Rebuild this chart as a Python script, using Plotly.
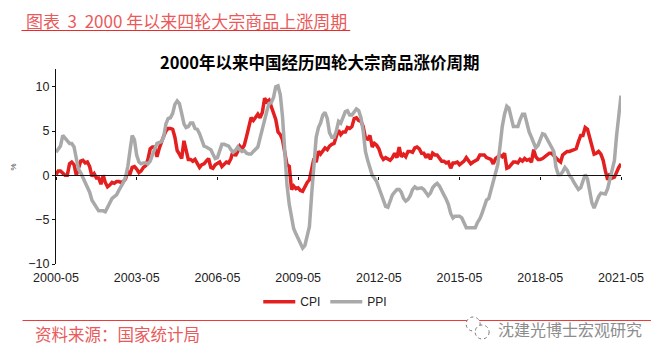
import pandas as pd
import plotly.graph_objects as go

dates = pd.date_range("2000-05-01", "2021-05-01", freq="MS")
tick_dates = ["2000-05-01","2003-05-01","2006-05-01","2009-05-01","2012-05-01","2015-05-01","2018-05-01","2021-05-01"]
tick_labels = ["2000-05","2003-05","2006-05","2009-05","2012-05","2015-05","2018-05","2021-05"]

cpi = [0.1,0.5,0.5,0.3,0.0,0.0,1.3,1.5,
 1.2,0.0,0.8,1.6,1.7,1.4,1.5,1.0,-0.1,0.2,-0.3,-0.3,
 -1.0,0.0,-0.8,-1.3,-1.1,-0.8,-0.9,-0.7,-0.7,-0.8,-0.7,-0.4,
 0.4,0.2,0.9,1.0,0.7,0.3,0.5,0.9,1.1,1.8,3.0,3.2,
 3.2,2.1,3.0,3.8,4.4,5.0,5.3,5.3,5.2,4.3,2.8,2.4,
 1.9,3.9,2.7,1.8,1.8,1.6,1.8,1.3,0.9,1.2,1.3,1.6,
 1.9,0.9,0.8,1.2,1.4,1.5,1.0,1.3,1.5,1.4,1.9,2.8,
 2.2,2.7,3.3,3.0,3.4,4.4,5.6,6.5,6.2,6.5,6.9,6.5,
 7.1,8.7,8.3,8.5,7.7,7.1,6.3,4.9,4.6,4.0,2.4,1.2,
 1.0,-1.6,-1.2,-1.5,-1.4,-1.7,-1.8,-1.2,-0.8,-0.5,0.6,1.9,
 1.5,2.7,2.4,2.8,3.1,2.9,3.3,3.5,3.6,4.4,5.1,4.6,
 4.9,4.9,5.4,5.3,5.5,6.4,6.5,6.2,6.1,5.5,4.2,4.1,
 4.5,3.2,3.6,3.4,3.0,2.2,1.8,2.0,1.9,1.7,2.0,2.5,
 2.0,3.2,2.1,2.4,2.1,2.7,2.7,2.6,3.1,3.2,3.0,2.5,
 2.5,2.0,2.4,1.8,2.5,2.3,2.3,2.0,1.6,1.6,1.4,1.5,
 0.8,1.4,1.4,1.5,1.2,1.4,1.6,2.0,1.6,1.3,1.5,1.6,
 1.8,2.3,2.3,2.3,2.0,1.9,1.8,1.3,1.9,2.1,2.3,2.1,
 2.5,0.8,0.9,1.2,1.5,1.5,1.4,1.8,1.6,1.9,1.7,1.8,
 1.5,2.9,2.1,1.8,1.8,1.9,2.1,2.3,2.5,2.5,2.2,1.9,
 1.7,1.5,2.3,2.5,2.7,2.7,2.8,2.8,3.0,3.8,4.5,4.5,
 5.4,5.2,4.3,3.3,2.4,2.5,2.7,2.4,1.7,0.5,-0.5,0.2,
 -0.3,-0.2,0.4,0.9,1.3]

ppi = [2.6,2.9,3.3,4.5,4.2,3.8,3.6,3.6,
 3.2,1.9,0.7,0.3,-0.2,-0.8,-1.3,-1.9,-2.8,-3.2,-3.7,-4.0,
 -4.0,-4.0,-4.1,-3.6,-2.9,-2.6,-2.4,-2.2,-1.7,-1.3,-0.8,-0.2,
 1.0,2.9,4.5,4.0,2.3,1.5,1.3,1.4,1.4,1.3,1.6,2.3,
 3.0,3.6,3.7,3.8,4.3,5.8,6.4,6.5,7.0,8.0,8.4,8.1,
 7.0,5.8,5.4,5.5,5.9,5.9,5.3,5.2,4.7,4.0,3.3,3.2,
 3.0,2.9,2.4,1.9,2.0,2.7,3.5,3.5,3.4,3.3,2.9,2.6,
 2.8,3.2,2.9,2.7,2.8,2.5,2.4,2.4,2.7,2.9,3.2,4.2,
 5.3,6.2,7.2,8.1,8.2,8.8,10.0,10.1,9.1,6.6,2.0,-1.1,
 -3.3,-4.5,-6.0,-6.6,-7.2,-7.8,-8.2,-7.9,-7.0,-5.8,-2.1,1.7,
 4.3,5.4,5.9,6.8,7.1,6.4,4.8,4.3,4.3,5.0,6.1,5.9,
 6.6,7.2,7.3,6.8,6.8,7.1,7.5,7.3,6.5,5.0,2.7,1.7,
 0.7,0.0,-0.3,-0.7,-1.4,-2.1,-2.9,-3.5,-3.6,-2.8,-2.2,-1.9,
 -1.6,-1.6,-1.9,-2.6,-2.9,-2.7,-2.3,-1.6,-1.3,-1.5,-1.4,-1.4,
 -1.6,-2.0,-2.3,-2.0,-1.4,-1.1,-0.9,-1.2,-1.8,-2.2,-2.7,-3.3,
 -4.3,-4.8,-4.6,-4.6,-4.6,-4.8,-5.4,-5.9,-5.9,-5.9,-5.9,-5.9,
 -5.3,-4.9,-4.3,-3.4,-2.8,-2.6,-1.7,-0.8,0.1,1.2,3.3,5.5,
 6.9,7.8,7.6,6.4,5.5,5.5,5.5,6.3,6.9,6.9,5.8,4.9,
 4.3,3.7,3.1,3.4,4.1,4.7,4.6,4.1,3.6,3.3,2.7,0.9,
 0.1,0.1,0.4,0.9,0.6,0.0,-0.3,-0.8,-1.2,-1.6,-1.4,-0.5,
 0.1,-0.4,-1.5,-3.1,-3.7,-3.0,-2.4,-2.0,-2.1,-2.1,-1.5,-0.4,
 0.3,1.7,4.4,6.8,9.0]

y_ticks = [-10, -5, 0, 5, 10]
y_min, y_max = -10, 12

# The page body has an 8 px margin, so the figure sits at (8, 8) in the window.
PAGE = 8
W, H = 659 - PAGE, 358 - PAGE
L, R, T, B = 55.5 - PAGE, 621 - PAGE, 69 - PAGE, 264 - PAGE
RED, GRAY, ACCENT = "#e41f1f", "#a9a9a9", "#ea5a5a"
CJK = "Noto Sans CJK SC"
SANS = "Liberation Sans"

fig = go.Figure()
fig.add_trace(go.Scatter(x=dates, y=cpi, name="CPI", mode="lines", xaxis="x",
                         line=dict(color=RED, width=3.5)))
fig.add_trace(go.Scatter(x=dates, y=ppi, name="PPI", mode="lines", xaxis="x",
                         line=dict(color=GRAY, width=3.5)))
# empty trace that keeps the label axis alive
fig.add_trace(go.Scatter(x=dates, y=[None]*len(dates), xaxis="x2", showlegend=False, hoverinfo="skip"))

x_range = [dates[0], dates[-1]]
fig.update_layout(
    width=W, height=H, autosize=False,
    paper_bgcolor="white", plot_bgcolor="white",
    margin=dict(l=L, r=W-R, t=T, b=H-B, autoexpand=False),
    font=dict(family=SANS, size=12.5, color="#222"),
    xaxis=dict(type="date", range=x_range, domain=[0,1], anchor="free",
               position=-y_min/(y_max-y_min), tickvals=tick_dates, ticktext=[""]*8,
               ticks="outside", ticklen=3, tickwidth=1, tickcolor="#111",
               showline=True, linecolor="#111", linewidth=1.3, showgrid=False, zeroline=False),
    xaxis2=dict(type="date", range=x_range, domain=[0,1], overlaying="x", anchor="free", position=0,
                side="bottom", tickvals=tick_dates, ticktext=tick_labels, ticks="", ticklen=0,
                ticklabelstandoff=4,
                showline=False, showgrid=False, zeroline=False, tickfont=dict(size=12.5, color="#222")),
    yaxis=dict(range=[y_min, y_max], tickvals=y_ticks, ticks="outside", ticklen=3, tickwidth=1,
               tickcolor="#111", showline=True, linecolor="#111", linewidth=1.3, showgrid=False,
               zeroline=False, tickfont=dict(size=12.5, color="#222")),
    legend=dict(orientation="h", x=0.358, xanchor="left", y=-0.119, yanchor="top",
                itemwidth=32, font=dict(size=12, color="#222"), bgcolor="rgba(0,0,0,0)",
                traceorder="normal", itemclick=False, itemdoubleclick=False),
    showlegend=True,
)

def txt(s, x, y, size, color, family=CJK, xanchor="left", bold=False, angle=0):
    x, y = x - PAGE, y - PAGE
    fig.add_annotation(text=f"<b>{s}</b>" if bold else s, xref="paper", yref="paper",
                       x=(x-L)/(R-L), y=(B-y)/(B-T), xanchor=xanchor, yanchor="middle",
                       showarrow=False, textangle=angle, font=dict(family=family, size=size, color=color))

def seg(x0, y0, x1, y1, color, width=1):
    x0, x1, y0, y1 = x0 - PAGE, x1 - PAGE, y0 - PAGE, y1 - PAGE
    fig.add_shape(type="line", xref="paper", yref="paper", x0=(x0-L)/(R-L), x1=(x1-L)/(R-L),
                  y0=(B-y0)/(B-T), y1=(B-y1)/(B-T), line=dict(color=color, width=width))

txt("图表  3  2000 年以来四轮大宗商品上涨周期", 23, 20, 17, ACCENT)
seg(21, 30.5, 350, 30.5, "#e92b2b", 1.2)
txt("2000年以来中国经历四轮大宗商品涨价周期", 319, 62, 16.5, "#000", xanchor="center", bold=True)
txt("%", 12, 167, 8, "#444", family=SANS, xanchor="center", angle=-90)
seg(22, 320.5, 659, 320.5, "#ef3a3a", 1)
txt("资料来源：国家统计局", 32, 334, 16.5, ACCENT)
txt("沈建光博士宏观研究", 496, 329, 16, "#8c8c8c")

# watermark icon
def circ(cx, cy, r):
    cx, cy = cx - PAGE, cy - PAGE
    fig.add_shape(type="circle", xref="paper", yref="paper", x0=(cx-r-L)/(R-L), x1=(cx+r-L)/(R-L),
                  y0=(B-cy-r)/(B-T), y1=(B-cy+r)/(B-T), line=dict(color="#777", width=1, dash="dot"),
                  fillcolor="white")
circ(473, 324, 7)
circ(482, 332, 7)

fig.write_html("out.html")
